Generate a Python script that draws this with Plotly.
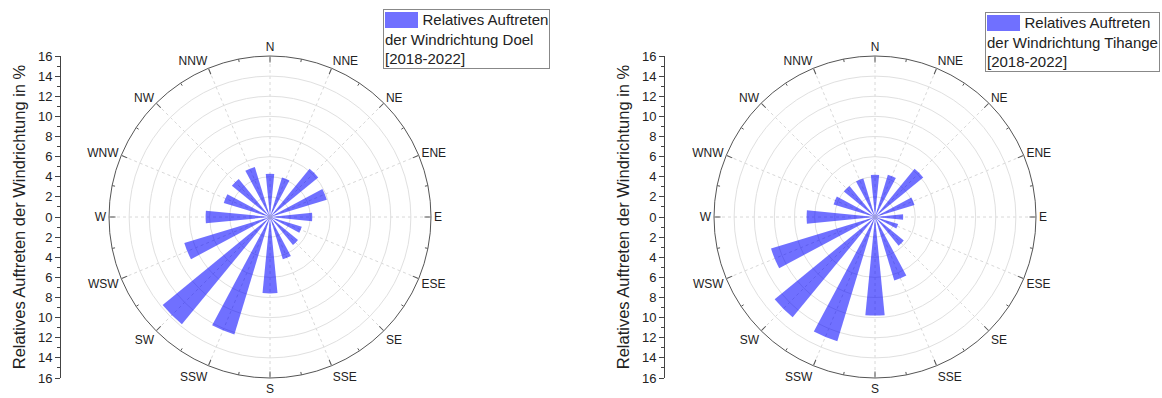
import plotly.graph_objects as go

# Wind direction sectors (16-point compass) and their bearings in degrees
directions = ["N", "NNE", "NE", "ENE", "E", "ESE", "SE", "SSE",
              "S", "SSW", "SW", "WSW", "W", "WNW", "NW", "NNW"]
bearings = [i * 22.5 for i in range(16)]

# Relative frequency of wind direction in % (2018-2022)
doel = [4.3, 4.1, 6.2, 5.9, 4.2, 3.3, 3.6, 4.4,
        7.6, 12.2, 13.8, 8.9, 6.4, 4.8, 4.9, 5.2]
tihange = [4.2, 4.4, 6.2, 4.1, 2.8, 2.4, 3.7, 6.6,
           9.8, 12.9, 12.9, 10.8, 6.8, 4.3, 4.0, 4.0]

# Scale of the radial / vertical axis
r_max = 16
r_ticks = list(range(-16, 17, 2))
r_ticktext = [str(abs(v)) for v in r_ticks]

legend_names = ["Doel", "Tihange"]

W, H = 1162, 398
FONT = "Liberation Sans, Arial, sans-serif"
BAR_COLOR = "rgba(0,0,255,0.56)"


def px_x(x):
    return x / W


def px_y(y):
    return (H - y) / H


fig = go.Figure()

polar_names = ["polar", "polar2"]
xaxes = ["x", "x2"]
yaxes = ["y", "y2"]

# Geometry of the two panels (pixels)
panels = [
    dict(cx=270, axis_x=61, leg_x0=383, leg_y0=9, sw=(385, 12, 418, 28)),
    dict(cx=875, axis_x=665, leg_x0=985, leg_y0=12, sw=(987, 15, 1020, 31)),
]
radius_px = 161
cy = 217

for k, (vals, name) in enumerate(zip([doel, tihange], legend_names)):
    pol = polar_names[k]
    fig.add_trace(go.Barpolar(
        r=vals, theta=bearings, width=[11.25] * len(bearings),
        marker=dict(color=BAR_COLOR, line=dict(width=0)),
        subplot=pol, showlegend=False,
        name=f"Relatives Auftreten der Windrichtung {name} [2018-2022]",
    ))
    # minor ticks on the outer ring, halfway between compass points
    for b in bearings:
        fig.add_trace(go.Scatterpolar(
            r=[r_max, r_max - 0.3], theta=[b + 11.25, b + 11.25],
            mode="lines", line=dict(color="#555", width=1),
            subplot=pol, showlegend=False, hoverinfo="skip",
        ))
    # empty trace so the vertical scale axis is drawn
    fig.add_trace(go.Scatter(x=[], y=[], xaxis=xaxes[k], yaxis=yaxes[k],
                             showlegend=False))

y_dom = [px_y(cy + radius_px), px_y(cy - radius_px)]

layout = dict(
    width=W, height=H,
    margin=dict(l=0, r=0, t=0, b=0, autoexpand=False),
    paper_bgcolor="white", plot_bgcolor="white",
    font=dict(family=FONT, color="#222"),
    showlegend=False,
)

shapes = []
annotations = []
for k, p in enumerate(panels):
    pol = polar_names[k]
    layout[pol] = dict(
        domain=dict(x=[px_x(p["cx"] - radius_px), px_x(p["cx"] + radius_px)], y=y_dom),
        bgcolor="white",
        radialaxis=dict(range=[0, r_max], dtick=2, showticklabels=False,
                        ticks="", showline=False, gridcolor="#e0e0e0", gridwidth=1),
        angularaxis=dict(rotation=90, direction="clockwise",
                         tickmode="array", tickvals=bearings, ticktext=directions,
                         ticks="inside", ticklen=6, tickcolor="#555",
                         showline=True, linecolor="#555", linewidth=1,
                         gridcolor="#d8d8d8", griddash="3px,3px",
                         tickfont=dict(size=12, color="#222")),
    )
    xa = "xaxis" if k == 0 else "xaxis2"
    ya = "yaxis" if k == 0 else "yaxis2"
    layout[xa] = dict(domain=[px_x(p["axis_x"]), px_x(p["axis_x"] + 1)],
                      visible=False, anchor=yaxes[k], automargin=False)
    layout[ya] = dict(domain=y_dom, anchor=xaxes[k], range=[-r_max, r_max],
                      automargin=False,
                      tickmode="array", tickvals=r_ticks, ticktext=r_ticktext,
                      showline=True, linecolor="#444", linewidth=1,
                      ticks="outside", ticklen=5, tickcolor="#444",
                      minor=dict(ticks="outside", ticklen=3, dtick=1, tickcolor="#444"),
                      showgrid=False, zeroline=False,
                      tickfont=dict(size=13, color="#222"),
                      title=dict(text="Relatives Auftreten der Windrichtung in %",
                                 font=dict(size=16.5, color="#222"), standoff=8))

    # legend box: bordered text with a colour swatch before the first line
    indent = "\u00a0" * 9
    annotations.append(dict(
        xref="paper", yref="paper", x=px_x(p["leg_x0"]), y=px_y(p["leg_y0"]),
        xanchor="left", yanchor="top", showarrow=False, align="left",
        text=f"{indent}Relatives Auftreten<br>der Windrichtung {legend_names[k]}<br>[2018-2022]",
        font=dict(size=15, color="#222", family=FONT),
        bordercolor="#888", borderwidth=1, borderpad=1,
    ))
    x0, y0, x1, y1 = p["sw"]
    shapes.append(dict(type="rect", xref="paper", yref="paper", layer="above",
                       x0=px_x(x0), x1=px_x(x1), y0=px_y(y1), y1=px_y(y0),
                       fillcolor=BAR_COLOR, line=dict(width=0)))

layout["shapes"] = shapes
layout["annotations"] = annotations
fig.update_layout(**layout)

fig.write_html("out.html")
